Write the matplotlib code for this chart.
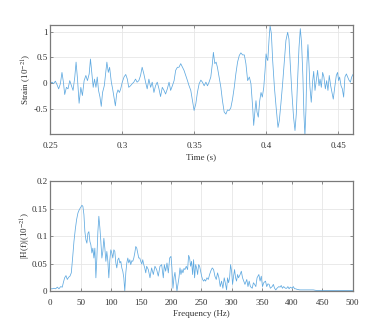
import matplotlib
matplotlib.use("Agg")
import matplotlib.pyplot as plt
import numpy as np

# Strain time series
time_s = [
    0.2500, 0.2512, 0.2523, 0.2535, 0.2547, 0.2558, 0.2570, 0.2581, 0.2591, 0.2600,
    0.2612, 0.2623, 0.2635, 0.2647, 0.2658, 0.2670, 0.2679, 0.2689, 0.2700, 0.2712,
    0.2723, 0.2735, 0.2747, 0.2758, 0.2770, 0.2779, 0.2789, 0.2798, 0.2807, 0.2817,
    0.2826, 0.2835, 0.2845, 0.2854, 0.2863, 0.2875, 0.2884, 0.2893, 0.2903, 0.2912,
    0.2924, 0.2933, 0.2942, 0.2952, 0.2961, 0.2970, 0.2980, 0.2989, 0.3000, 0.3012,
    0.3024, 0.3035,
    0.3045, 0.3057, 0.3069, 0.3080, 0.3092, 0.3103, 0.3115, 0.3127, 0.3138, 0.3150,
    0.3162, 0.3173, 0.3185, 0.3197, 0.3208, 0.3220, 0.3231, 0.3243, 0.3255, 0.3266,
    0.3278, 0.3290, 0.3301, 0.3313, 0.3325, 0.3336, 0.3348, 0.3360, 0.3371, 0.3383,
    0.3394, 0.3406, 0.3418, 0.3429, 0.3441, 0.3453, 0.3464, 0.3476, 0.3488, 0.3499,
    0.3511, 0.3522, 0.3534, 0.3546, 0.3557, 0.3569, 0.3581,
    0.3592, 0.3603, 0.3615, 0.3626, 0.3633, 0.3643, 0.3652, 0.3661, 0.3673, 0.3685,
    0.3696, 0.3708, 0.3720, 0.3731, 0.3743, 0.3754, 0.3766, 0.3778, 0.3789, 0.3801,
    0.3813, 0.3824, 0.3836, 0.3848, 0.3859, 0.3871, 0.3883, 0.3894, 0.3906, 0.3913,
    0.3922, 0.3929, 0.3936, 0.3945, 0.3955, 0.3964, 0.3973, 0.3983, 0.3992, 0.3999,
    0.4006, 0.4011, 0.4020, 0.4027, 0.4036, 0.4045, 0.4057, 0.4069,
    0.4082, 0.4091, 0.4102, 0.4114, 0.4126, 0.4137, 0.4149, 0.4158, 0.4167, 0.4179,
    0.4190, 0.4200, 0.4209, 0.4218, 0.4228, 0.4237, 0.4246, 0.4255, 0.4262, 0.4269,
    0.4276, 0.4283, 0.4290, 0.4297, 0.4304, 0.4313, 0.4323, 0.4330, 0.4339, 0.4348,
    0.4357, 0.4367, 0.4374, 0.4383, 0.4392, 0.4401, 0.4411, 0.4420, 0.4429, 0.4438,
    0.4448, 0.4457, 0.4466, 0.4476, 0.4487, 0.4496, 0.4503, 0.4510, 0.4520, 0.4529,
    0.4538, 0.4547, 0.4557, 0.4566, 0.4575, 0.4585, 0.4594, 0.4603,
]
strain = [
    0.00, 0.02, -0.01, 0.04, -0.03, -0.11, -0.01, 0.21, 0.02, -0.22,
    -0.08, -0.11, 0.05, -0.05, -0.14, 0.12, 0.41, 0.08, -0.39, -0.08,
    -0.24, 0.05, 0.15, 0.05, 0.18, 0.47, 0.18, -0.08, 0.08, -0.08,
    0.12, -0.14, -0.27, -0.45, -0.18, -0.05, 0.18, 0.41, 0.21, 0.31,
    0.02, -0.11, -0.27, -0.44, -0.21, -0.13, -0.18, -0.11, 0.02, 0.12,
    0.17, 0.08,
    -0.08, -0.05, -0.01, 0.02, 0.08, 0.02, 0.05, 0.15, 0.31, 0.18,
    0.02, -0.11, 0.08, -0.08, 0.02, -0.18, -0.05, 0.02, -0.11, -0.26,
    -0.08, -0.14, -0.21, -0.11, 0.02, -0.14, -0.05, 0.05, 0.25, 0.31,
    0.31, 0.38, 0.31, 0.25, 0.15, 0.05, -0.05, -0.14, -0.34, -0.53,
    -0.40, -0.18, -0.01, 0.06, 0.02, -0.05, 0.02,
    -0.05, 0.02, 0.12, 0.38, 0.60, 0.38, 0.41, 0.31, 0.12, -0.08,
    -0.34, -0.56, -0.60, -0.52, -0.53, -0.48, -0.31, -0.08, 0.18, 0.41,
    0.54, 0.59, 0.55, 0.55, 0.38, 0.05, 0.12, -0.01, -0.47, -0.82,
    -0.53, -0.34, -0.56, -0.66, -0.34, -0.18, -0.27, -0.08, 0.25, 0.57,
    0.47, 0.44, 0.86, 1.12, 0.96, 0.44, -0.08, -0.47,
    -0.86, -0.73, -0.40, -0.01, 0.44, 0.83, 0.99, 0.86, 0.38, -0.21,
    -0.66, -0.92, -0.60, 0.05, 0.70, 1.06, 0.77, 0.12, -0.60, -1.02,
    -0.53, 0.38, 0.75, 0.38, -0.08, -0.37, 0.05, 0.23, -0.14, 0.05,
    0.25, -0.05, 0.08, -0.08, 0.21, 0.12, -0.11, 0.05, -0.14, 0.15,
    -0.05, -0.18, -0.31, -0.08, 0.15, 0.21, 0.05, 0.12, -0.05, -0.11,
    -0.27, 0.12, 0.18, 0.12, 0.06, 0.02, 0.12, 0.17,
]

# Amplitude spectrum
freq_hz = [
    0, 3.3, 6.1, 8.8, 11.6, 14.3, 17.1, 19.8, 21.5, 23.7,
    25.9, 28.1, 30.3, 32.5, 34.7, 36.9, 39.1, 41.3, 43.5, 45.7,
    47.9, 50.1, 52.3, 53.9, 55.6, 57.2, 58.9, 60.5, 62.2, 63.8,
    65.5, 67.1, 68.8, 70.4, 72.1, 73.7, 75.4, 77.0, 78.7, 80.3,
    82.0, 83.6, 85.3, 86.9, 88.6, 90.2, 91.9, 93.5, 95.2, 96.8,
    98.5, 100.1, 101.8, 103.4, 105.1, 106.7, 108.4, 110.0, 111.7, 113.3,
    115.0, 116.6, 118.3, 119.9, 121.6, 123.2, 124.9, 126.5, 128.2, 129.8,
    131.5, 133.1, 134.8, 136.4, 138.1, 139.7, 141.4, 143.0, 144.7, 146.3,
    148.0, 149.6, 151.3, 152.9, 154.6, 156.2, 157.9,
    159.4, 162.1, 164.9, 167.6, 170.4, 173.1, 175.9, 178.6, 181.4, 184.2,
    186.9, 188.6, 190.8, 193.0, 195.2, 197.4, 199.6, 201.2, 202.9, 204.5,
    206.2, 207.8, 209.5, 211.1, 212.8, 214.5, 216.1, 217.8, 219.4, 221.1,
    222.7, 224.9, 227.1, 228.8, 230.4, 232.1, 233.7, 235.4, 237.0, 238.7,
    240.4, 242.0, 243.7, 245.3, 247.0, 248.6, 250.3, 251.9, 253.6, 255.2,
    256.9, 259.1, 261.3, 263.5, 265.7, 267.9, 270.1, 272.3, 274.5, 276.7,
    278.9, 281.1, 283.3, 285.5, 287.7, 290.0, 291.6, 293.2, 294.9, 296.6,
    298.2, 299.9, 301.5, 303.2, 304.8, 306.5, 308.1, 309.8, 311.4,
    314, 316, 318, 320, 322, 325, 327, 329, 331, 334,
    336, 338, 340, 342, 345, 347, 349, 351, 353, 356,
    358, 360, 362, 364, 367, 369, 371, 373, 375, 378,
    380, 382, 384, 386, 389, 391, 393, 395, 397, 400,
    402, 404, 406, 408, 413, 418, 424, 429, 435, 440,
    446, 457, 468, 479, 490, 500,
]
amplitude = [
    0.004, 0.004, 0.005, 0.004, 0.007, 0.004, 0.008, 0.007, 0.015, 0.024,
    0.028, 0.021, 0.025, 0.027, 0.033, 0.060, 0.090, 0.112, 0.130, 0.142,
    0.148, 0.152, 0.156, 0.154, 0.139, 0.108, 0.093, 0.087, 0.105, 0.108,
    0.090, 0.084, 0.069, 0.078, 0.060, 0.078, 0.024, 0.060, 0.108, 0.136,
    0.115, 0.090, 0.060, 0.072, 0.096, 0.078, 0.054, 0.072, 0.054, 0.024,
    0.057, 0.075, 0.069, 0.060, 0.075, 0.072, 0.051, 0.042, 0.057, 0.060,
    0.051, 0.054, 0.042, 0.036, 0.024, 0.000, 0.033, 0.051, 0.060, 0.051,
    0.057, 0.048, 0.055, 0.054, 0.060, 0.069, 0.081, 0.078, 0.069, 0.060,
    0.060, 0.054, 0.049, 0.057, 0.048, 0.042, 0.033,
    0.045, 0.039, 0.024, 0.042, 0.030, 0.045, 0.039, 0.027, 0.045, 0.048,
    0.024, 0.048, 0.036, 0.051, 0.033, 0.060, 0.063, 0.042, 0.005, 0.024,
    0.034, 0.018, 0.000, 0.012, 0.024, 0.042, 0.030, 0.039, 0.033, 0.041,
    0.039, 0.045, 0.039, 0.065, 0.060, 0.045, 0.054, 0.030, 0.057, 0.024,
    0.048, 0.042, 0.030, 0.048, 0.045, 0.036, 0.027, 0.021, 0.018, 0.021,
    0.018, 0.024, 0.021, 0.030, 0.037, 0.042, 0.039, 0.027, 0.021, 0.033,
    0.024, 0.008, 0.018, 0.005, 0.024, 0.012, 0.002, 0.024, 0.015, 0.024,
    0.048, 0.036, 0.012, 0.027, 0.039, 0.024, 0.018, 0.030, 0.024,
    0.030, 0.036, 0.024, 0.018, 0.012, 0.021, 0.008, 0.018, 0.008, 0.005,
    0.015, 0.012, 0.008, 0.024, 0.030, 0.018, 0.027, 0.008, 0.015, 0.018,
    0.008, 0.013, 0.012, 0.005, 0.008, 0.012, 0.005, 0.002, 0.005, 0.008,
    0.007, 0.010, 0.005, 0.008, 0.005, 0.005, 0.008, 0.004, 0.007, 0.005,
    0.008, 0.004, 0.004, 0.003, 0.002, 0.002, 0.002, 0.002, 0.002, 0.001,
    0.001, 0.001, 0.001, 0.001, 0.001, 0.001,
]

plt.rcParams["font.family"] = ["Liberation Serif", "DejaVu Serif"]
plt.rcParams["mathtext.fontset"] = "stix"

line_color = "#5fa9e0"
spine_color = "#7a7a7a"
text_color = "#333333"

fig = plt.figure(figsize=(3.9, 3.32), dpi=100)
ax1 = fig.add_axes([0.129, 0.596, 0.775, 0.330])
ax2 = fig.add_axes([0.129, 0.1235, 0.775, 0.331])


def style(ax):
    ax.grid(True, color="#e6e6e6", linewidth=0.6)
    ax.set_axisbelow(True)
    for s in ax.spines.values():
        s.set_color(spine_color)
        s.set_linewidth(0.9)
    ax.tick_params(direction="in", length=2.5, width=0.6, colors=spine_color,
                   labelcolor=text_color, labelsize=6.5, top=True, right=True)
    ax.tick_params(axis="x", pad=6)
    ax.tick_params(axis="y", pad=2)
    ax.yaxis.set_label_coords(-0.058, 0.5)


ax1.plot(time_s, strain, color=line_color, linewidth=0.55)
ax1.set_xlim(0.25, 0.46)
ax1.set_ylim(-0.99, 1.14)
ax1.set_xticks([0.25, 0.3, 0.35, 0.4, 0.45])
ax1.set_xticklabels(["0.25", "0.3", "0.35", "0.4", "0.45"])
ax1.set_yticks([-0.5, 0, 0.5, 1])
ax1.set_yticklabels(["-0.5", "0", "0.5", "1"])
ax1.set_xlabel("Time (s)", fontsize=6.5, color=text_color, labelpad=2)
ax1.set_ylabel("Strain (10$^{-21}$)", fontsize=6.5, color=text_color)
style(ax1)

ax2.plot(freq_hz, amplitude, color=line_color, linewidth=0.55)
ax2.set_xlim(0, 500)
ax2.set_ylim(0, 0.2)
ax2.set_xticks(np.arange(0, 501, 50))
ax2.set_yticks([0, 0.05, 0.1, 0.15, 0.2])
ax2.set_yticklabels(["0", "0.05", "0.1", "0.15", "0.2"])
ax2.set_xlabel("Frequency (Hz)", fontsize=6.5, color=text_color, labelpad=2)
ax2.set_ylabel("|H(f)|(10$^{-21}$)", fontsize=6.5, color=text_color)
style(ax2)

fig.savefig("out.png", dpi=100)
